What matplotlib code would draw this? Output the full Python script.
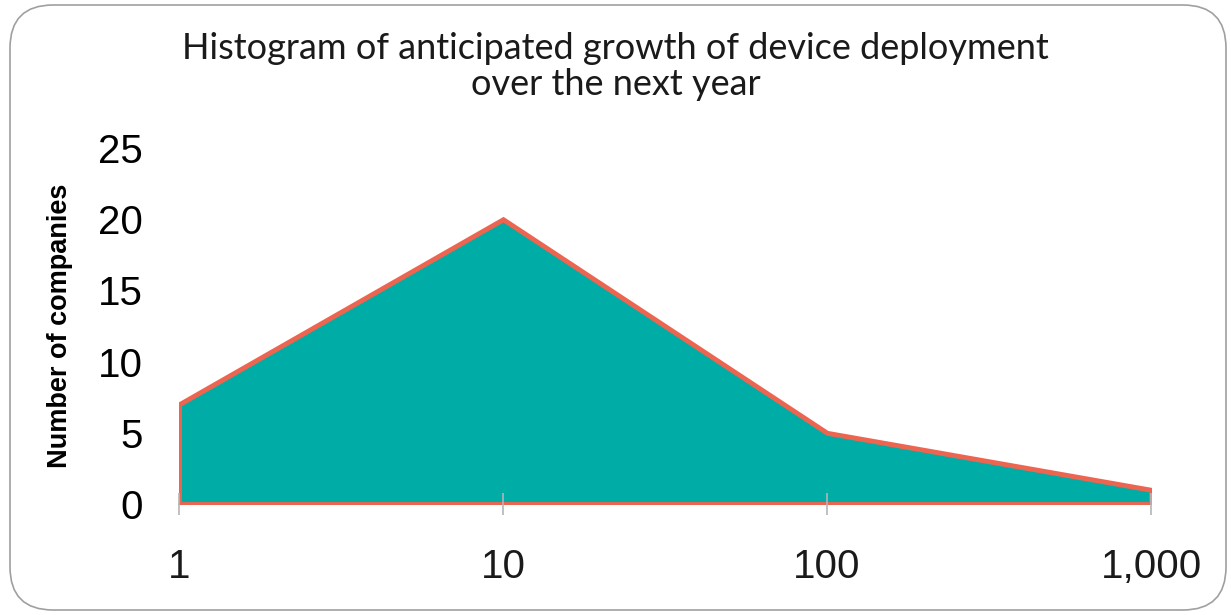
import matplotlib
matplotlib.use("Agg")
import matplotlib.pyplot as plt
from matplotlib.patches import FancyBboxPatch

# Growth buckets (category axis) and number of companies per bucket
categories = ["1", "10", "100", "1,000"]
companies = [7, 20, 5, 1]
y_ticks = [0, 5, 10, 15, 20, 25]

title = "Histogram of anticipated growth of device deployment\nover the next year"
y_label = "Number of companies"

fill_color = "#00ADA6"
edge_color = "#EC6550"
axis_grey = "#B5B5B5"

plt.rcParams["font.family"] = ["Liberation Sans", "DejaVu Sans"]

fig = plt.figure(figsize=(12.31, 6.15), dpi=100)

# Rounded frame around the whole chart
frame = FancyBboxPatch((10 / 1231, 5 / 615), 1216 / 1231, 605 / 615,
                       boxstyle="round,pad=0,rounding_size=0.035",
                       transform=fig.transFigure, facecolor="none",
                       edgecolor="#A0A0A0", linewidth=1.2,
                       mutation_aspect=2.0)
fig.patches.append(frame)

ax = fig.add_axes([179 / 1231, 111 / 615, (1151 - 179) / 1231, (504 - 148) / 615])

x = list(range(len(categories)))
ax.fill_between(x, companies, 0, facecolor=fill_color, edgecolor=edge_color,
                linewidth=3.5, joinstyle="miter", zorder=1)

ax.set_xlim(0, len(categories) - 1)
ax.set_ylim(0, 25)
ax.set_xticks(x)
ax.set_xticklabels(categories)
ax.set_yticks(y_ticks)

for side in ("top", "right", "left"):
    ax.spines[side].set_visible(False)
ax.spines["bottom"].set_color(axis_grey)
ax.spines["bottom"].set_linewidth(1.3)
ax.spines["bottom"].set_zorder(0.5)

ax.tick_params(axis="x", direction="inout", length=16, width=1.2,
               color=axis_grey, pad=24, labelsize=29, labelcolor="#1A1A1A")
ax.tick_params(axis="y", length=0, pad=26, labelsize=29, labelcolor="#000000")

ax.set_ylabel(y_label, fontweight="bold", fontsize=19.5, color="#000000")
ax.yaxis.set_label_coords(-0.109, 0.5)

fig.text(0.5, 1 - 95 / 615, title, ha="center", va="baseline", fontfamily="Lato",
         fontsize=26, color="#1A1A1A", linespacing=1.12)

fig.savefig("out.png", dpi=100)
